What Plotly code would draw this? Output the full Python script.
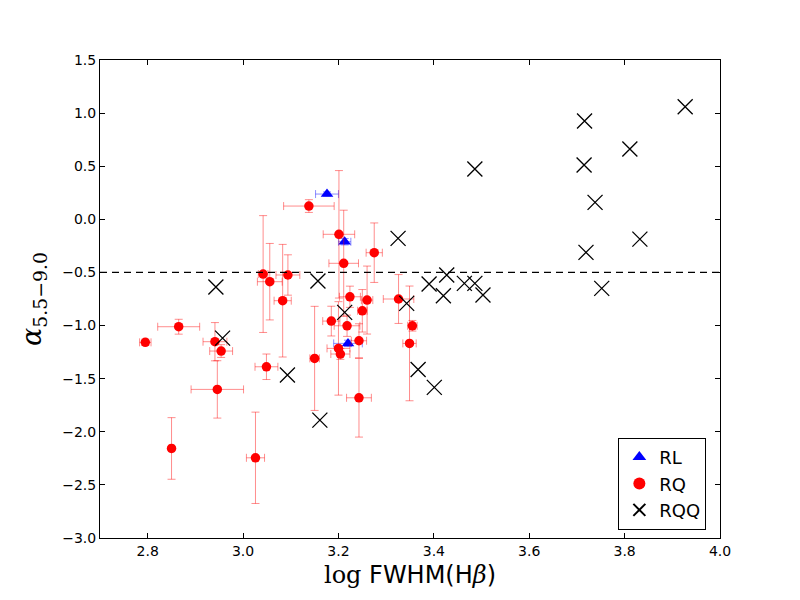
import plotly.graph_objects as go

# RL (radio loud)
rl_x = [3.176, 3.213, 3.220]
rl_y = [0.238, -0.211, -1.168]
rl_xerr = [0.024, 0.013, 0.030]
rl_yerr = [0.02, 0.03, 0.03]

# RQ (radio quiet)
rq_x = [2.795, 2.865, 2.850, 2.941, 2.954, 2.946, 3.026, 3.042, 3.056, 3.094,
        3.083, 3.049, 3.150, 3.138, 3.201, 3.211, 3.275, 3.224, 3.260, 3.250,
        3.326, 3.185, 3.218, 3.355, 3.349, 3.243, 3.200, 3.204, 3.243]
rq_y = [-1.158, -1.011, -2.157, -1.152, -1.240, -1.601, -2.245, -0.515, -0.587, -0.524,
        -0.766, -1.388, -1.309, 0.125, -0.141, -0.414, -0.314, -0.729, -0.760, -0.861,
        -0.750, -0.958, -1.002, -1.002, -1.168, -1.143, -1.215, -1.268, -1.680]
rq_xerr = [0.012, 0.044, 0.005, 0.025, 0.024, 0.055, 0.019, 0.010, 0.026, 0.025,
           0.018, 0.024, 0.010, 0.053, 0.033, 0.031, 0.017, 0.022, 0.012, 0.010,
           0.032, 0.018, 0.027, 0.010, 0.014, 0.016, 0.024, 0.020, 0.026]
rq_yerr = [0.03, 0.07, 0.29, 0.18, 0.06, 0.27, 0.43, 0.55, 0.36, 0.19,
           0.53, 0.12, 0.49, 0.06, 0.60, 0.50, 0.28, 0.10, 0.32, 0.20,
           0.23, 0.14, 0.10, 0.05, 0.54, 0.16, 0.44, 0.05, 0.37]

# RQQ (radio quiet quasars)
rqq_x = [2.943, 2.957, 3.093, 3.157, 3.161, 3.213, 3.325, 3.343, 3.367, 3.401,
         3.486, 3.390, 3.427, 3.420, 3.464, 3.486, 3.503,
         3.716, 3.715, 3.738, 3.719, 3.752, 3.811, 3.832, 3.927]
rqq_y = [-0.637, -1.118, -1.466, -0.581, -1.890, -0.876, -0.179, -0.791, -1.413, -1.582,
         0.474, -0.609, -0.524, -0.719, -0.603, -0.603, -0.713,
         0.926, 0.511, 0.160, -0.311, -0.650, 0.662, -0.186, 1.060]

threshold = -0.5
x_ticks = [2.8, 3.0, 3.2, 3.4, 3.6, 3.8, 4.0]
y_ticks = [1.5, 1.0, 0.5, 0.0, -0.5, -1.0, -1.5, -2.0, -2.5, -3.0]

fig = go.Figure()

fig.add_trace(go.Scatter(
    x=rl_x, y=rl_y, mode="markers", name="RL",
    marker=dict(symbol="triangle-up", size=11, color="blue", line=dict(width=0)),
    error_x=dict(type="data", array=rl_xerr, color="rgba(0,0,255,0.45)", thickness=1, width=4),
    error_y=dict(type="data", array=rl_yerr, color="rgba(0,0,255,0.45)", thickness=1, width=4),
))
fig.add_trace(go.Scatter(
    x=rq_x, y=rq_y, mode="markers", name="RQ",
    marker=dict(symbol="circle", size=9.5, color="red", line=dict(width=0)),
    error_x=dict(type="data", array=rq_xerr, color="rgba(255,0,0,0.45)", thickness=1, width=4),
    error_y=dict(type="data", array=rq_yerr, color="rgba(255,0,0,0.45)", thickness=1, width=4),
))
fig.add_trace(go.Scatter(
    x=rqq_x, y=rqq_y, mode="markers", name="RQQ",
    marker=dict(symbol="x-thin-open", size=15, color="black", line=dict(width=1.3, color="black")),
))

fig.add_shape(type="line", xref="paper", yref="y", x0=0, x1=1, y0=threshold, y1=threshold,
              line=dict(color="black", width=1.3, dash="7px,5px"))

axis_common = dict(showline=True, linecolor="black", linewidth=1, mirror="allticks",
                   ticks="inside", ticklen=5, tickcolor="black", showgrid=False, zeroline=False,
                   tickfont=dict(family="DejaVu Sans", size=14, color="black"))

fig.update_xaxes(range=[2.7, 4.0], tickvals=x_ticks, ticktext=[f"{v:.1f}" for v in x_ticks],
                 title=dict(text="<span style='font-family:DejaVu Serif'>log</span> FWHM(H<span style='font-family:DejaVu Serif'><i>β</i></span>)",
                            font=dict(family="DejaVu Sans", size=24, color="black"), standoff=8),
                 **axis_common)
fig.update_yaxes(range=[-3.0, 1.5], tickvals=y_ticks,
                 ticktext=[f"{v:.1f}".replace("-", "\u2212") for v in y_ticks],
                 title=dict(text="<i>α</i><sub>5.5\u22129.0</sub>",
                            font=dict(family="DejaVu Serif", size=27, color="black"), standoff=12),
                 **axis_common)

fig.update_layout(
    width=792, height=592,
    margin=dict(l=92, r=80, t=52, b=62),
    plot_bgcolor="white", paper_bgcolor="white",
    legend=dict(x=0.978, y=0.017, xanchor="right", yanchor="bottom",
                bgcolor="white", bordercolor="black", borderwidth=1,
                font=dict(family="DejaVu Sans", size=18, color="black"),
                itemsizing="constant", tracegroupgap=4),
)

fig.write_html("out.html")
